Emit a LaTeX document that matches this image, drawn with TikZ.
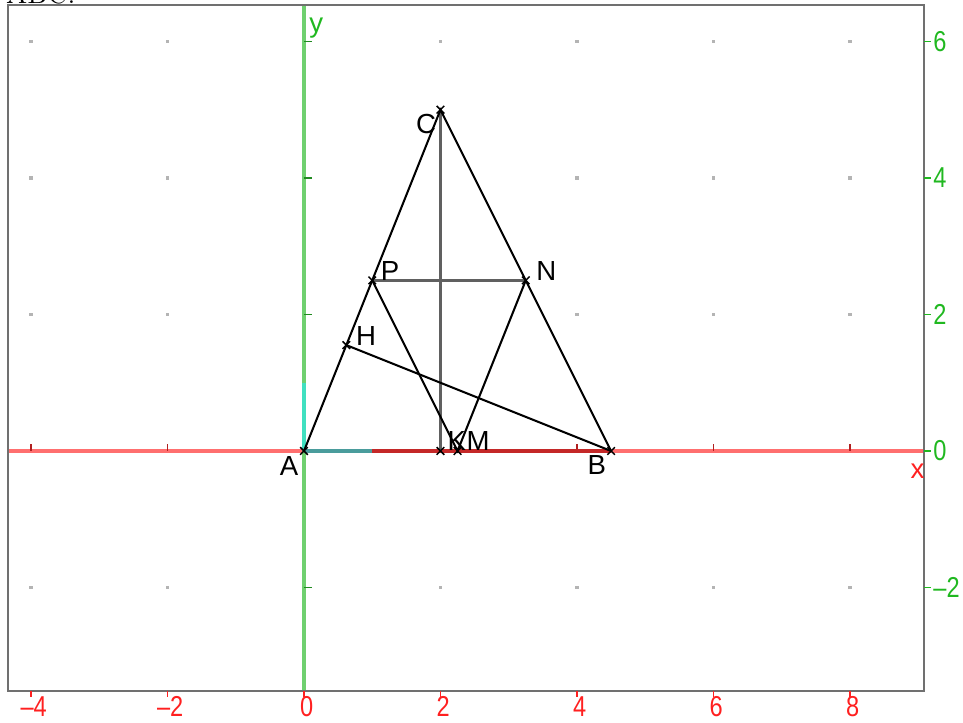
\documentclass[tikz,border=0pt]{standalone}
\usepackage{fontspec}
\setsansfont{Liberation Sans}
\usetikzlibrary{shapes.misc}
\definecolor{axred}{HTML}{FF6F6F}
\definecolor{axgreen}{HTML}{6FD06F}
\definecolor{numred}{HTML}{FF2020}
\definecolor{numgreen}{HTML}{20B820}
\definecolor{tickred}{HTML}{B02020}
\definecolor{tickgreen}{HTML}{208A20}
\definecolor{segred}{HTML}{C42828}
\definecolor{unitx}{HTML}{4A9C9C}
\definecolor{unity}{HTML}{40E0C0}
\definecolor{framegray}{HTML}{707070}
\definecolor{dotgray}{HTML}{B4B4B4}
\definecolor{linegray}{HTML}{606060}
\begin{document}
\begin{tikzpicture}[x=1cm,y=1cm,
  seg/.style={black,line width=0.85pt},
  gseg/.style={linegray,line width=1.05pt},
  xmark/.style={draw,black,cross out,minimum size=0.09cm,inner sep=0pt,line width=0.6pt},
  lbl/.style={font=\sffamily\fontsize{11.5}{12}\selectfont,inner sep=0pt},
  xnum/.style={font=\sffamily\fontsize{12}{13}\selectfont,text=numred,inner sep=0pt},
  ynum/.style={font=\sffamily\fontsize{12}{13}\selectfont,text=numgreen,inner sep=0pt,anchor=west}]
\useasboundingbox (-4.454,-3.971) rectangle (9.656,6.608);
% clipped caption text at the top
\node[anchor=base west,inner sep=0pt,font=\fontsize{12}{14}\selectfont] (cap) at (-4.37,6.55) {ABC.};
% frame corners
\coordinate (FL) at (-4.337,0);
\coordinate (FR) at (9.084,0);
\coordinate (FT) at (0,6.535);
\coordinate (FB) at (0,-3.516);
% grid dots
\foreach \x in {-4,-2,2,4,6,8}
  \foreach \y in {-2,2,4,6}
    \fill[dotgray] (\x-0.028,\y-0.028) rectangle (\x+0.028,\y+0.028);
% axes
\draw[axred,line width=1.3pt] (FL) -- (FR);
\draw[axgreen,line width=1.3pt] (FT) -- (FB);
\foreach \x in {-4,-2,2,4,6,8}
  \draw[tickred,line width=0.8pt] (\x,0) -- (\x,0.1);
\foreach \y in {-2,2,4,6}
  \draw[tickgreen,line width=0.8pt] (0,\y) -- (0.12,\y);
% points
\coordinate (A) at (0,0);
\coordinate (B) at (4.5,0);
\coordinate (C) at (2,5);
\coordinate (P) at (1,2.5);
\coordinate (N) at (3.25,2.5);
\coordinate (H) at (0.6207,1.5517);
\coordinate (K) at (2,0);
\coordinate (M) at (2.25,0);
\coordinate (U) at (1,0);
\coordinate (V) at (0,1);
% segment AB on the axis
\draw[segred,line width=1.3pt] (A) -- (B);
\draw[unitx,line width=1.3pt] (A) -- (U);
\draw[unity,line width=1.3pt] (A) -- (V);
% frame
\draw[framegray,line width=1.1pt] (-4.337,-3.516) rectangle (9.084,6.535);
% bottom numbers
\foreach \x/\t in {-4/{\char"2013 4},-2/{\char"2013 2},0/0,2/2,4/4,6/6,8/8}{
  \draw[numred,line width=0.6pt] (\x,-3.516) -- (\x,-3.6);
  \node[xnum] at (\x+0.04,-3.75) {\scalebox{0.82}[1]{\t}};
}
% right numbers
\foreach \y/\t in {6/6,4/4,2/2,0/0,-2/{\char"2013 2}}{
  \draw[numgreen,line width=0.6pt] (9.084,\y) -- (9.19,\y);
  \node[ynum] at (9.215,\y) {\scalebox{0.82}[1]{\t}};
}
% axis names
\node[lbl,text=numgreen] (ylab) at (0.18,6.2) {y};
\node[lbl,text=numred] (xlab) at (8.99,-0.3) {x};
% triangle and lines
\draw[gseg] (C) -- (K);
\draw[gseg] (P) -- (N);
\draw[seg] (A) -- (C) -- (B);
\draw[seg] (B) -- (H);
\draw[seg] (P) -- (M) -- (N);
% marks
\foreach \p in {A,B,C,P,N,H,K,M}
  \node[xmark] (m\p) at (\p) {};
% labels
\node[lbl] (lC) at (1.79,4.79) {C};
\node[lbl] (lP) at (1.26,2.63) {P};
\node[lbl] (lN) at (3.55,2.63) {N};
\node[lbl] (lH) at (0.91,1.69) {H};
\node[lbl] (lA) at (-0.22,-0.22) {A};
\node[lbl] (lB) at (4.29,-0.21) {B};
\node[lbl] (lK) at (2.24,0.14) {K};
\node[lbl] (lM) at (2.55,0.14) {M};
\end{tikzpicture}
\end{document}
